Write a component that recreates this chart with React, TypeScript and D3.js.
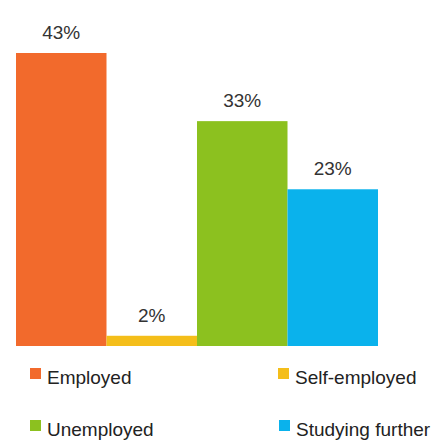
import React from "react";
import * as d3 from "d3";

const categories = ["Employed", "Self-employed", "Unemployed", "Studying further"];
const values = [43, 1.5, 33, 23];
const labels = ["43%", "2%", "33%", "23%"];
const colors = ["#F26A2C", "#F4BE1A", "#8CC11F", "#0AB2EC"];

const W = 432;
const H = 441;

export default function App() {
  const x = d3.scaleBand<string>().domain(categories).range([16, 378]).padding(0);
  const y = d3.scaleLinear().domain([0, 43]).range([346, 53]);
  const font = "'Liberation Sans', Arial, sans-serif";

  const legendPos = [
    { x: 30, y: 368 },
    { x: 278, y: 368 },
    { x: 30, y: 420 },
    { x: 279, y: 420 },
  ];

  return (
    <svg
      width={W}
      height={H}
      style={{ position: "absolute", left: 0, top: 0, background: "#fff" }}
      fontFamily={font}
    >
      {categories.map((c, i) => (
        <g key={c}>
          <rect
            x={x(c)!}
            y={y(values[i])}
            width={x.bandwidth()}
            height={y(0) - y(values[i])}
            fill={colors[i]}
          />
          <text
            x={x(c)! + x.bandwidth() / 2}
            y={y(values[i]) - 14}
            textAnchor="middle"
            fontSize={19}
            fill="#333"
          >
            {labels[i]}
          </text>
        </g>
      ))}
      {categories.map((c, i) => (
        <g key={"lg" + c} transform={`translate(${legendPos[i].x},${legendPos[i].y})`}>
          <rect x={0} y={0} width={11} height={11} fill={colors[i]} />
          <text x={17} y={16} fontSize={19} fill="#222">
            {c}
          </text>
        </g>
      ))}
    </svg>
  );
}
